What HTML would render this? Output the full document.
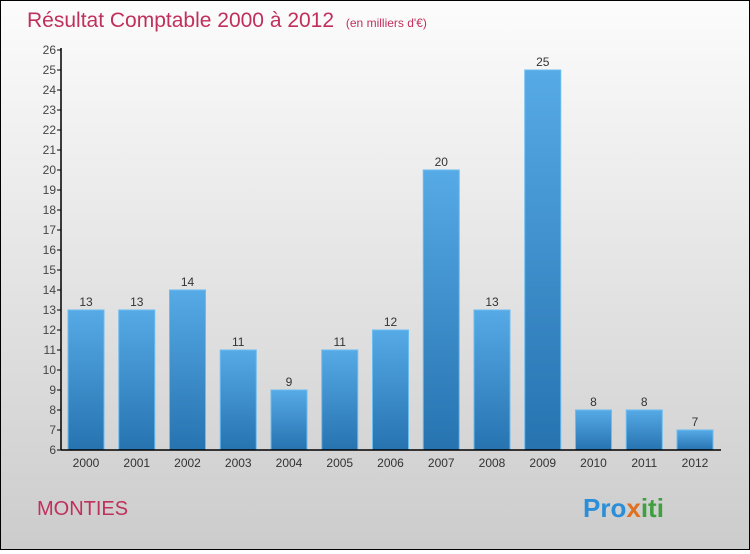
<!DOCTYPE html>
<html><head><meta charset="utf-8"><style>
body{margin:0;width:750px;height:550px;overflow:hidden;font-family:"Liberation Sans",sans-serif}
#c{position:absolute;left:0;top:0;width:748px;height:548px;border:1px solid #000;background:linear-gradient(#fcfcfc,#cccccc)}
</style></head><body>
<div id="c">
<svg width="748" height="548" xmlns="http://www.w3.org/2000/svg" id="svg">
<defs><linearGradient id="bg" x1="0" y1="0" x2="0" y2="1"><stop offset="0" stop-color="#56aae6"/><stop offset="1" stop-color="#2673b0"/></linearGradient></defs>
<text x="26" y="26" font-size="21" fill="#c0305c">Résultat Comptable 2000 à 2012 <tspan font-size="12" dx="6">(en milliers d'€)</tspan></text>
<text x="36" y="514" font-size="20" fill="#c0305c">MONTIES</text>
<text x="582" y="516" font-size="26" font-weight="bold" fill="#2a8fd8">Pro<tspan fill="#e07020">x</tspan><tspan fill="#40a040">iti</tspan></text>
<g id="plot"></g>
</svg></div>
<script>
const years=["2000","2001","2002","2003","2004","2005","2006","2007","2008","2009","2010","2011","2012"];
const values=[13,13,14,11,9,11,12,20,13,25,8,8,7];
const ticks=[6,7,8,9,10,11,12,13,14,15,16,17,18,19,20,21,22,23,24,25,26];
const NS="http://www.w3.org/2000/svg";
const g=document.getElementById('plot');
const y=v=>449-(v-6)*20, x0=85, step=50.75, bw=36, ax=60;
function mk(t,a){const e=document.createElementNS(NS,t);for(const k in a)e.setAttribute(k,a[k]);g.appendChild(e);return e;}
ticks.forEach(t=>{
 const l=mk('line',{x1:ax-4,x2:ax,y1:y(t),y2:y(t),stroke:'#000'});
 
 
 const tx=mk('text',{x:ax-5,y:y(t)+4,'font-size':12,'text-anchor':'end',fill:'#444'});tx.textContent=t;
 
 
});
values.forEach((v,i)=>{
 const cx=x0+i*step;
 const r=mk('rect',{x:cx-bw/2,y:y(v),width:bw,height:y(6)-y(v),fill:'url(#bg)',stroke:'#6bbcf0','stroke-width':1});
 
 
 const t=mk('text',{x:cx,y:y(v)-4,'font-size':12,'text-anchor':'middle',fill:'#333'});t.textContent=v;
 
 
 const xl=mk('text',{x:cx,y:466,'font-size':12,'text-anchor':'middle',fill:'#333'});xl.textContent=years[i];
 
 
});
const a1=mk('line',{x1:ax,x2:ax,y1:y(26)-2,y2:y(6),stroke:'#000','stroke-width':1.5});


const a2=mk('line',{x1:ax,x2:720,y1:y(6),y2:y(6),stroke:'#000','stroke-width':1.5});


</script>
</body></html>
